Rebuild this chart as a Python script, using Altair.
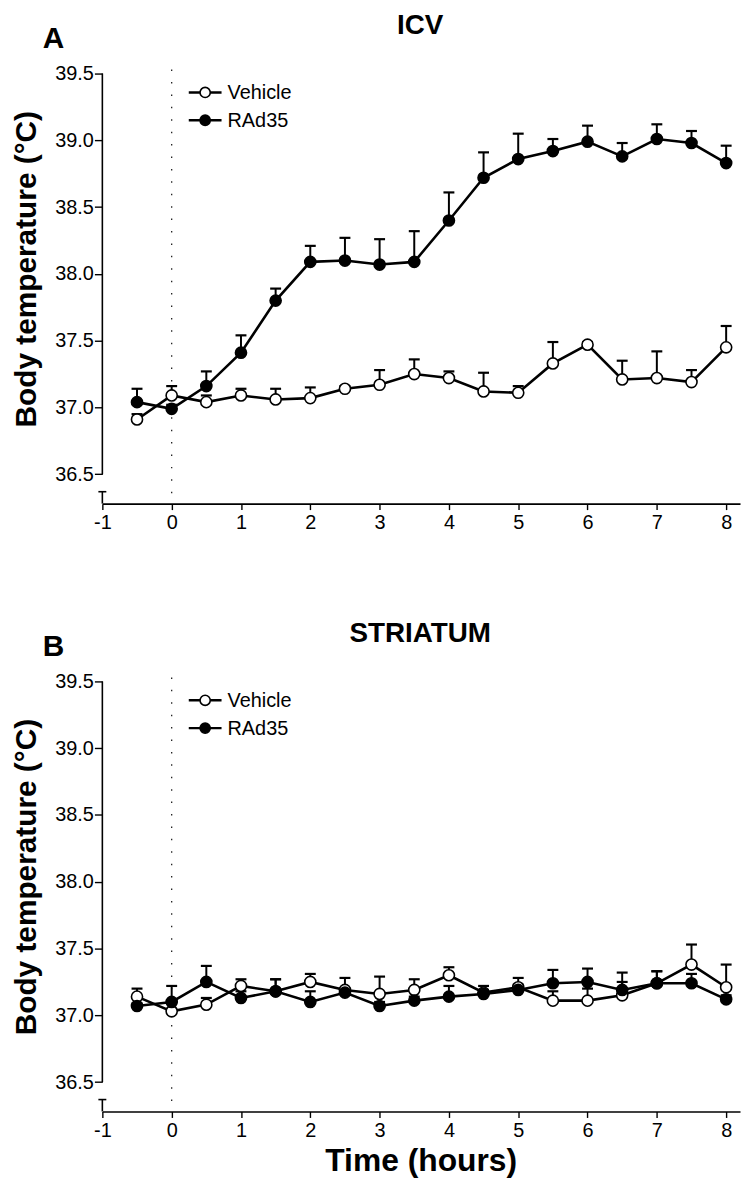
import altair as alt
import pandas as pd

FONT = "Liberation Sans"

# ---- data ----------------------------------------------------------------
times = [-0.5, 0, 0.5, 1, 1.5, 2, 2.5, 3, 3.5, 4, 4.5, 5, 5.5, 6, 6.5, 7, 7.5, 8]
series_names = ["Vehicle", "RAd35"]
series_fills = ["white", "black"]

# Panel A: ICV
icv_vehicle_mean = [36.91, 37.09, 37.04, 37.09, 37.06, 37.07, 37.14, 37.17, 37.25,
                    37.22, 37.12, 37.11, 37.33, 37.47, 37.21, 37.22, 37.19, 37.45]
icv_vehicle_sem = [0.04, 0.07, 0.05, 0.05, 0.08, 0.08, 0.02, 0.11, 0.11,
                   0.05, 0.14, 0.05, 0.16, 0.02, 0.14, 0.20, 0.09, 0.16]
icv_rad35_mean = [37.04, 36.99, 37.16, 37.41, 37.80, 38.09, 38.10, 38.07, 38.09,
                  38.40, 38.72, 38.86, 38.92, 38.99, 38.88, 39.01, 38.98, 38.83]
icv_rad35_sem = [0.10, 0.03, 0.11, 0.13, 0.09, 0.12, 0.17, 0.19, 0.23,
                 0.21, 0.19, 0.19, 0.09, 0.12, 0.10, 0.11, 0.09, 0.13]

# Panel B: STRIATUM
str_vehicle_mean = [37.14, 37.03, 37.08, 37.22, 37.18, 37.25, 37.19, 37.16, 37.19,
                    37.30, 37.17, 37.21, 37.11, 37.11, 37.15, 37.24, 37.38, 37.21]
str_vehicle_sem = [0.06, 0.02, 0.05, 0.05, 0.09, 0.06, 0.09, 0.13, 0.08,
                   0.06, 0.05, 0.02, 0.07, 0.09, 0.17, 0.09, 0.15, 0.17]
str_rad35_mean = [37.07, 37.10, 37.25, 37.13, 37.18, 37.10, 37.17, 37.07, 37.11,
                  37.14, 37.16, 37.19, 37.24, 37.25, 37.19, 37.24, 37.24, 37.12]
str_rad35_sem = [0.02, 0.12, 0.12, 0.05, 0.09, 0.08, 0.03, 0.03, 0.03,
                 0.08, 0.03, 0.09, 0.10, 0.10, 0.06, 0.09, 0.07, 0.03]

x_ticks = [-1, 0, 1, 2, 3, 4, 5, 6, 7, 8]
y_ticks = [36.5, 37.0, 37.5, 38.0, 38.5, 39.0, 39.5]
x_domain = [-1, 8.2]
y_domain = [36.28, 39.5]
y_axis_top, y_axis_bottom = 39.5, 36.5

panel_titles = ["ICV", "STRIATUM"]
panel_letters = ["A", "B"]
y_title = "Body temperature (°C)"
x_title = "Time (hours)"

# ---- layout constants -----------------------------------------------------
W, H = 642, 433


def one_text(txt):
    return pd.DataFrame({"t": [txt]})


def panel(vm, vs, rm, rs, title, letter, show_xtitle):
    rows = []
    for name, means, sems in ((series_names[0], vm, vs), (series_names[1], rm, rs)):
        for t, m, s in zip(times, means, sems):
            rows.append({"time": t, "series": name, "mean": m, "upper": round(m + s, 3)})
    df = pd.DataFrame(rows)

    xs = alt.Scale(domain=x_domain, nice=False, zero=False)
    ys = alt.Scale(domain=y_domain, nice=False, zero=False)
    x = alt.X("time:Q", scale=xs, title=None,
              axis=alt.Axis(values=x_ticks, labelExpr="'' + datum.value", grid=False,
                            domain=True, domainColor="black", domainWidth=1.6,
                            tickColor="black", tickWidth=1.4, tickSize=6,
                            labelFontSize=20, labelFont=FONT, labelColor="black",
                            labelPadding=3, labelFlush=False))
    y = alt.Y("mean:Q", scale=ys, title=None,
              axis=alt.Axis(values=y_ticks, format=".1f", grid=False, domain=False,
                            tickColor="black", tickWidth=1.4, tickSize=8,
                            labelFontSize=20, labelFont=FONT, labelColor="black",
                            labelPadding=1, labelFlush=False))

    base = alt.Chart(df)
    err = base.mark_rule(color="black", strokeWidth=2).encode(x=x, y=y, y2="upper:Q")
    cap = base.mark_tick(orient="horizontal", size=11, thickness=2.2, color="black",
                         opacity=1).encode(x=x, y=alt.Y("upper:Q", scale=ys))
    line = base.mark_line(color="black", strokeWidth=2.6).encode(x=x, y=y, detail="series:N")
    pts = base.mark_circle(size=125, stroke="black", strokeWidth=1.6, opacity=1).encode(
        x=x, y=y,
        fill=alt.Fill("series:N", scale=alt.Scale(domain=series_names, range=series_fills),
                      legend=None))

    deco = one_text("")
    dotted = alt.Chart(deco).mark_rule(color="#222", strokeWidth=1.3,
                                       strokeDash=[1.5, 11]).encode(
        x=alt.datum(0), y=alt.value(-4), y2=alt.value(H))
    yline = alt.Chart(deco).mark_rule(color="black", strokeWidth=1.6).encode(
        x=alt.value(0), y=alt.datum(y_axis_top), y2=alt.datum(y_axis_bottom))
    ybreak = alt.Chart(deco).mark_rule(color="black", strokeWidth=1.6).encode(
        x=alt.value(0), y=alt.value(H - 12), y2=alt.value(H))
    ybreak_cap = alt.Chart(deco).mark_rule(color="black", strokeWidth=1.6).encode(
        x=alt.value(-4), x2=alt.value(4), y=alt.value(H - 12))

    layers = [dotted, yline, ybreak, ybreak_cap, err, cap, line, pts]

    # manual legend
    for name, fill, ly in ((series_names[0], series_fills[0], 19),
                           (series_names[1], series_fills[1], 47)):
        ld = one_text(name)
        layers.append(alt.Chart(ld).mark_rule(color="black", strokeWidth=2.4).encode(
            x=alt.value(87), x2=alt.value(120), y=alt.value(ly)))
        layers.append(alt.Chart(ld).mark_circle(size=105, stroke="black", strokeWidth=1.6,
                                                fill=fill, opacity=1).encode(
            x=alt.value(103.5), y=alt.value(ly)))
        layers.append(alt.Chart(ld).mark_text(align="left", baseline="middle", fontSize=20,
                                              font=FONT, color="black").encode(
            text="t:N", x=alt.value(126), y=alt.value(ly + 1)))

    # panel title and letter
    layers.append(alt.Chart(one_text(title)).mark_text(
        align="center", baseline="alphabetic", fontSize=28, fontWeight="bold",
        font=FONT, color="black").encode(text="t:N", x=alt.value(W / 2 - 1),
                                         y=alt.value(-40)))
    layers.append(alt.Chart(one_text(letter)).mark_text(
        align="left", baseline="alphabetic", fontSize=30, fontWeight="bold",
        font=FONT, color="black").encode(text="t:N", x=alt.value(-60), y=alt.value(-26)))
    # y title
    layers.append(alt.Chart(one_text(y_title)).mark_text(
        align="center", baseline="alphabetic", angle=270, fontSize=30, fontWeight="bold",
        font=FONT, color="black").encode(text="t:N", x=alt.value(-67), y=alt.value(197)))
    if show_xtitle:
        layers.append(alt.Chart(one_text(x_title)).mark_text(
            align="center", baseline="alphabetic", fontSize=32, fontWeight="bold",
            font=FONT, color="black").encode(text="t:N", x=alt.value(W / 2),
                                             y=alt.value(H + 60)))

    return alt.layer(*layers).properties(width=W, height=H)


pA = panel(icv_vehicle_mean, icv_vehicle_sem, icv_rad35_mean, icv_rad35_sem,
           panel_titles[0], panel_letters[0], False)
pB = panel(str_vehicle_mean, str_vehicle_sem, str_rad35_mean, str_rad35_sem,
           panel_titles[1], panel_letters[1], True)

chart = alt.vconcat(pA, pB, spacing=179, bounds="flush").properties(
    padding={"left": 3, "top": 0, "right": 2, "bottom": 4},
    background="white",
).configure_view(stroke=None)

chart.save("out.html", embed_options={"renderer": "svg", "actions": False})
